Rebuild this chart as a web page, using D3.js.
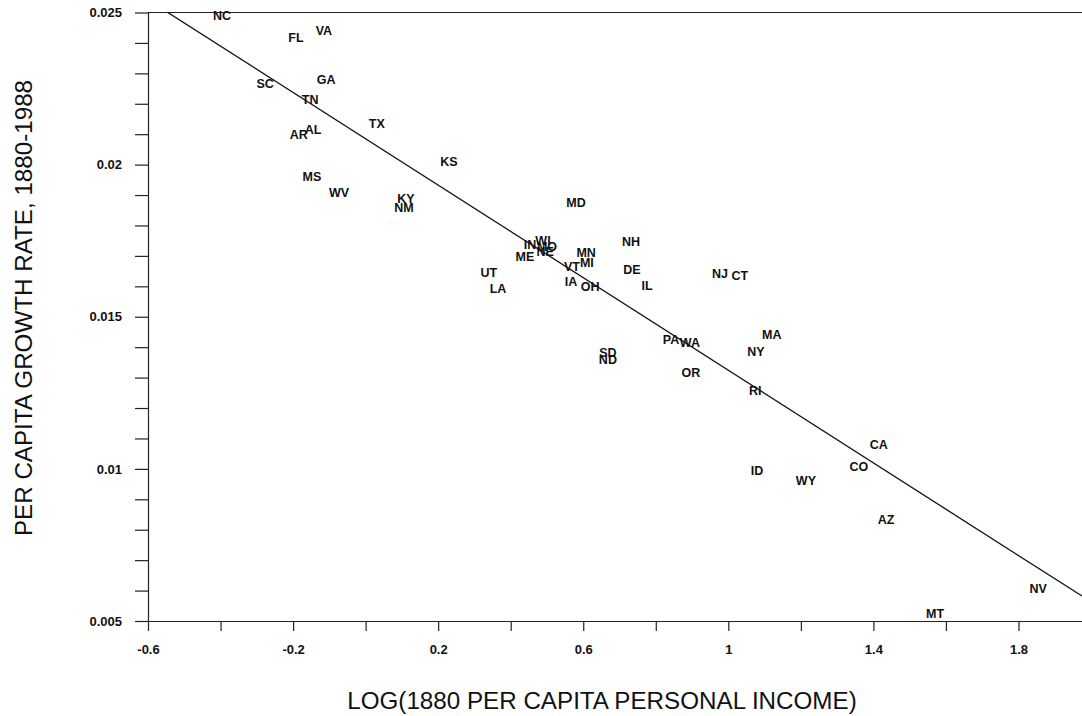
<!DOCTYPE html>
<html>
<head>
<meta charset="utf-8">
<script src="https://cdn.jsdelivr.net/npm/d3@7"></script>
<style>
  body { margin: 0; background: #fff; }
  svg text { font-family: "Liberation Sans", Arial, sans-serif; fill: #111; }
</style>
</head>
<body>
<div id="chart"></div>
<script>
// state labels and their coordinates
var states = ["NC","FL","VA","GA","SC","TN","TX","AL","AR","KS","MS","WV","KY","NM","MD","NH",
              "IN","WI","MO","NE","ME","MN","VT","MI","UT","DE","LA","IA","OH","IL","NJ","CT",
              "PA","WA","MA","NY","SD","ND","OR","RI","CA","CO","ID","WY","AZ","NV","MT"];
var logIncome = [-0.396,-0.192,-0.115,-0.109,-0.277,-0.153,0.031,-0.145,-0.184,0.230,-0.148,-0.073,0.111,0.106,0.580,0.732,
                 0.453,0.489,0.500,0.495,0.439,0.608,0.569,0.610,0.340,0.734,0.365,0.566,0.619,0.776,0.977,1.032,
                 0.842,0.894,1.120,1.076,0.668,0.668,0.897,1.074,1.415,1.360,1.079,1.214,1.435,1.854,1.570];
var growth = [0.02489,0.02419,0.02442,0.02281,0.02265,0.02212,0.02134,0.02114,0.02097,0.02009,0.01959,0.01907,0.01887,0.01860,0.01874,0.01746,
              0.01738,0.01749,0.01729,0.01713,0.01696,0.01710,0.01664,0.01677,0.01644,0.01654,0.01591,0.01615,0.01598,0.01601,0.01641,0.01634,
              0.01424,0.01414,0.01440,0.01387,0.01381,0.01358,0.01315,0.01256,0.01079,0.01006,0.00993,0.00960,0.00832,0.00605,0.00523];

// fitted line
var fitIntercept = 0.02085,
    fitSlope = -0.00761;

var xTicks = [-0.6,-0.4,-0.2,0,0.2,0.4,0.6,0.8,1,1.2,1.4,1.6,1.8];
var xLabels = [-0.6,-0.2,0.2,0.6,1,1.4,1.8];
var yTicks = [0.005,0.006,0.007,0.008,0.009,0.01,0.011,0.012,0.013,0.014,0.015,0.016,0.017,0.018,0.019,0.02,0.021,0.022,0.023,0.024,0.025];
var yLabels = [0.005,0.01,0.015,0.02,0.025];

var margin = {top: 12.5, right: 0, bottom: 95, left: 148},
    width = 1082 - margin.left - margin.right,
    height = 716 - margin.top - margin.bottom;

var svg = d3.select("#chart")
  .append("svg")
    .attr("width", 1082)
    .attr("height", 716)
  .append("g")
    .attr("transform", "translate(" + margin.left + "," + margin.top + ")");

var x = d3.scaleLinear()
  .domain([-0.6, -0.6 + width / 362.7])
  .range([0, width]);

var y = d3.scaleLinear()
  .domain([0.005, 0.025])
  .range([height, 0]);

// X axis
var xAxis = svg.append("g")
  .attr("transform", "translate(0," + height + ")")
  .call(d3.axisBottom(x)
    .tickValues(xTicks)
    .tickSize(10)
    .tickSizeOuter(0)
    .tickFormat(function(d) { return xLabels.indexOf(d) >= 0 ? String(d) : ""; }));
xAxis.selectAll("text")
  .attr("y", 24)
  .style("font-size", "13px")
  .style("font-weight", "bold");

// Y axis
var yAxis = svg.append("g")
  .call(d3.axisLeft(y)
    .tickValues(yTicks)
    .tickSize(13)
    .tickSizeOuter(0)
    .tickFormat(function(d) { return yLabels.indexOf(d) >= 0 ? String(d) : ""; }));
yAxis.selectAll("text")
  .attr("x", -26)
  .style("font-size", "13px")
  .style("font-weight", "bold");
svg.selectAll(".domain, .tick line").attr("stroke", "#222").attr("stroke-width", 1.2);

// top frame
svg.append("line")
  .attr("x1", 0).attr("x2", width)
  .attr("y1", 0).attr("y2", 0)
  .attr("stroke", "#222")
  .attr("stroke-width", 1.2);

// regression line, clipped to the plot
svg.append("clipPath")
    .attr("id", "plotclip")
  .append("rect")
    .attr("width", width)
    .attr("height", height);

var xs = x.domain();
svg.append("line")
  .attr("clip-path", "url(#plotclip)")
  .attr("x1", x(xs[0])).attr("y1", y(fitIntercept + fitSlope * xs[0]))
  .attr("x2", x(xs[1])).attr("y2", y(fitIntercept + fitSlope * xs[1]))
  .attr("stroke", "#111")
  .attr("stroke-width", 1.3);

// state labels
svg.selectAll("text.state")
  .data(states)
  .enter()
  .append("text")
    .attr("class", "state")
    .attr("x", function(d, i) { return x(logIncome[i]); })
    .attr("y", function(d, i) { return y(growth[i]); })
    .attr("dy", "0.35em")
    .attr("text-anchor", "middle")
    .style("font-size", "12.5px")
    .style("font-weight", "bold")
    .text(function(d) { return d; });

// axis titles
svg.append("text")
  .attr("text-anchor", "middle")
  .attr("x", 602 - margin.left)
  .attr("y", 709 - margin.top)
  .style("font-size", "24.2px")
  .text("LOG(1880 PER CAPITA PERSONAL INCOME)");

svg.append("text")
  .attr("text-anchor", "middle")
  .attr("transform", "translate(" + (32 - margin.left) + "," + (308 - margin.top) + ")rotate(-90)")
  .style("font-size", "24.2px")
  .text("PER CAPITA GROWTH RATE, 1880-1988");
</script>
</body>
</html>
